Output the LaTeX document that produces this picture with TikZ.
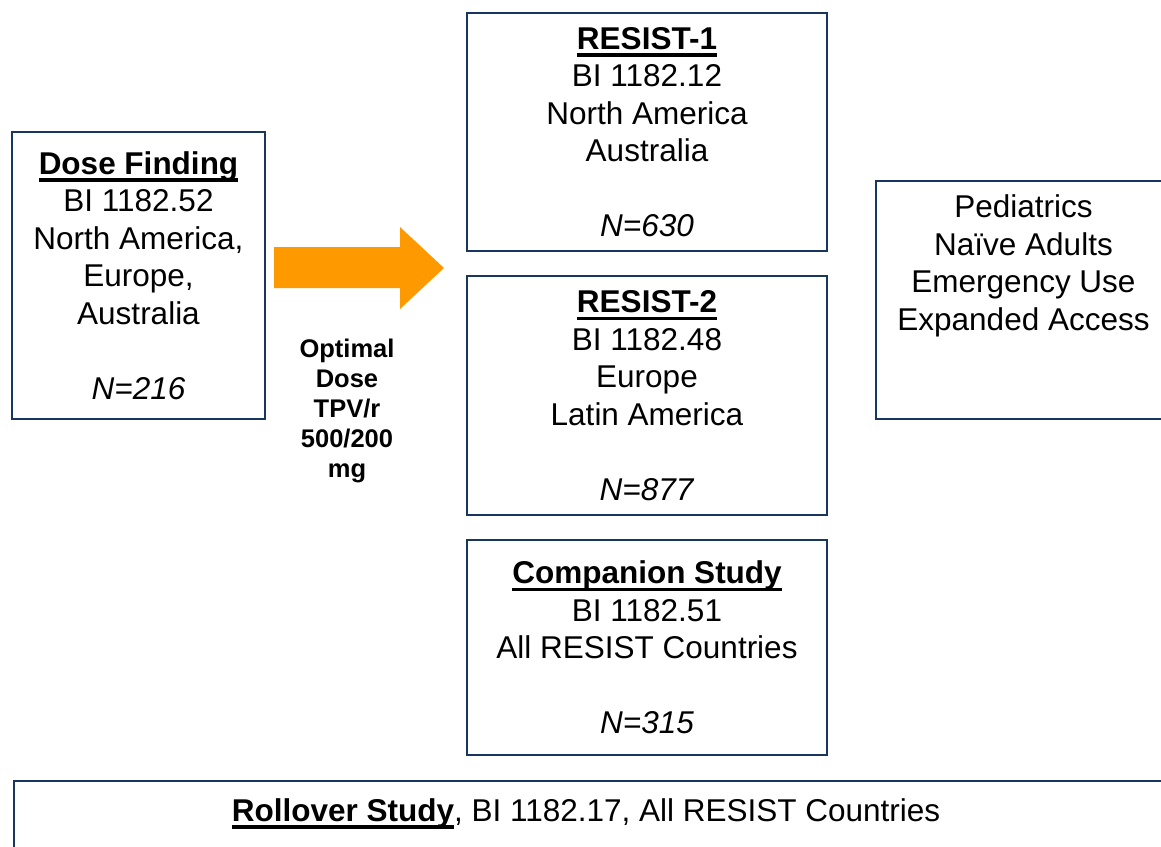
\documentclass[tikz,border=0pt]{standalone}
\usepackage{fontspec}
\setmainfont{Liberation Sans}
\usepackage{xcolor}
\usepackage{tikz}
\usetikzlibrary{positioning}
\definecolor{boxblue}{RGB}{23,55,94}
\definecolor{arroworange}{RGB}{255,153,0}
\newcommand{\ulhead}[1]{\setbox0\hbox{\bfseries #1}\rlap{\rule[-7.5pt]{\wd0}{3.5pt}}\box0}
\tikzset{
  studybox/.style={draw=boxblue, line width=2pt, align=center, inner sep=0pt, font=\fontsize{31.5}{37.5}\selectfont},
  plaintext/.style={inner sep=0pt, font=\fontsize{31.5}{37.5}\selectfont},
  dosenote/.style={align=center, inner sep=0pt, font=\bfseries\fontsize{25.5}{30}\selectfont},
  bigarrow/.style={fill=arroworange}
}

\begin{document}
\begin{tikzpicture}[x=1pt,y=-1pt]
\useasboundingbox (0,0) rectangle (1161,846);
\clip (0,0) rectangle (1161,846);
% dose finding study
\node[studybox, minimum width=253pt, minimum height=287pt] (dose) at (138.5,275.5)
  {\ulhead{Dose Finding}\\ BI 1182.52\\ North America,\\ Europe,\\ Australia\\[37.5pt] \textit{N=216}};
\fill[bigarrow] (274,247) -- (400,247) -- (400,227) -- (444,268) -- (400,309) -- (400,288) -- (274,288) -- cycle;
\node[dosenote] (optimal) at (347,411) {Optimal\\ Dose\\ TPV/r\\ 500/200\\ mg};
% phase 3 studies
\node[studybox, minimum width=360pt, minimum height=238pt] (resist1) at (647,132)
  {\ulhead{RESIST-1}\\ BI 1182.12\\ North America\\ Australia\\[37.5pt] \textit{N=630}};
\node[studybox, minimum width=360pt, minimum height=239pt, below=23pt of resist1] (resist2)
  {\ulhead{RESIST-2}\\ BI 1182.48\\ Europe\\ Latin America\\[37.5pt] \textit{N=877}};
\node[studybox, minimum width=360pt, minimum height=215pt, below=23pt of resist2] (companion)
  {\ulhead{Companion Study}\\ BI 1182.51\\ All RESIST Countries\\[37.5pt] \textit{N=315}};
\node[studybox, minimum width=295pt, minimum height=238pt] (access) at (1023.5,300)
  {Pediatrics\\ Naïve Adults\\ Emergency Use\\ Expanded Access\\ \mbox{}\\ \mbox{}};
% rollover
\node[draw=boxblue, line width=2pt, minimum width=1167pt, minimum height=68pt, anchor=north west] (rollover) at (13,780) {};
\node[plaintext, anchor=base] (rollovertext) at (586,821)
  {\ulhead{Rollover Study}, BI 1182.17, All RESIST Countries};
\end{tikzpicture}
\end{document}
